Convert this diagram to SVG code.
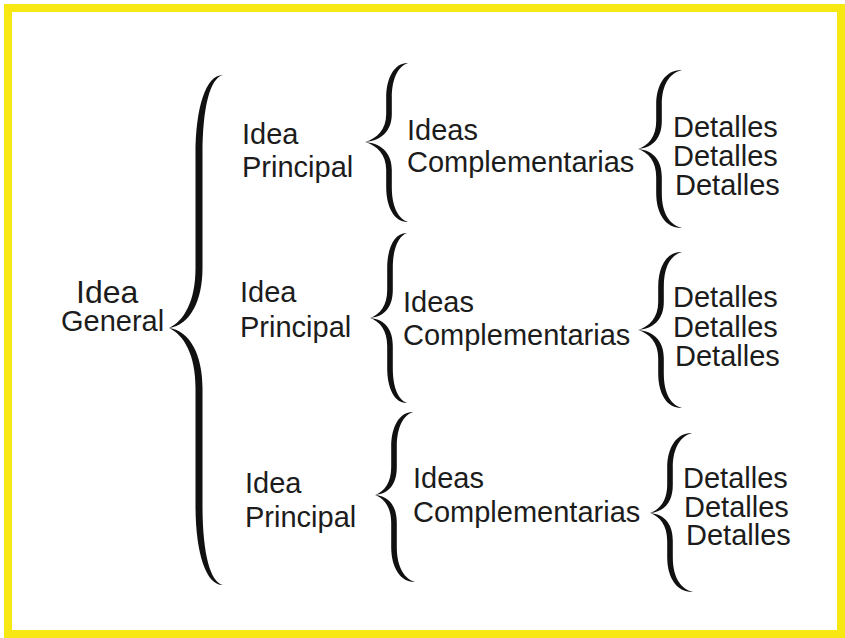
<svg xmlns="http://www.w3.org/2000/svg" width="845" height="638" viewBox="0 0 845 638">
<style>
.t{font-family:"Liberation Sans",Arial,sans-serif;font-size:29px;fill:#1c1c1c}
.g{font-size:32px}
.b{fill:#111;stroke:none}
</style>
<rect x="0" y="0" width="845" height="638" fill="#ffffff"/>
<rect x="8" y="8" width="833" height="626" fill="none" stroke="#f7e814" stroke-width="8"/>
<g id="connectors">
<path class="b" d="M 223,75 C 206,74.5 195.5,107 195.5,155 L 195.5,268 C 195.5,301 184,321 169,328 C 184,335 195.5,355 195.5,388 L 195.5,505 C 195.5,553 206,585.5 223,585 C 210,582 202.5,553 202.5,505 L 202.5,388 C 202.5,355 190,331 169,328 C 190,325 202.5,301 202.5,268 L 202.5,155 C 202.5,107 210,78 223,75 Z"/>
<path class="b" d="M 408,63 C 395,62.5 386.2,77 386.2,98 L 386.2,114 C 386.2,129.4 377,138.6 365,142 C 377,145.4 386.2,154.6 386.2,170 L 386.2,187 C 386.2,208 395,222.5 408,222 C 399,219 391.8,208 391.8,187 L 391.8,170 C 391.8,154.6 383,143.4 365,142 C 383,140.6 391.8,129.4 391.8,114 L 391.8,98 C 391.8,77 399,66 408,63 Z"/>
<path class="b" d="M 682,70 C 666,69.5 656.2,84 656.2,105 L 656.2,121 C 656.2,136.4 648.5,145.6 638,149 C 648.5,152.4 656.2,161.6 656.2,177 L 656.2,193 C 656.2,214 666,228.5 682,228 C 670,225 661.8,214 661.8,193 L 661.8,177 C 661.8,161.6 654.5,150.4 638,149 C 654.5,147.6 661.8,136.4 661.8,121 L 661.8,105 C 661.8,84 670,73 682,70 Z"/>
<path class="b" d="M 407,233 C 395,232.5 387.2,247 387.2,268 L 387.2,290 C 387.2,305.4 380,314.6 370,318 C 380,321.4 387.2,330.6 387.2,346 L 387.2,368 C 387.2,389 395,403.5 407,403 C 399,400 392.8,389 392.8,368 L 392.8,346 C 392.8,330.6 386,319.4 370,318 C 386,316.6 392.8,305.4 392.8,290 L 392.8,268 C 392.8,247 399,236 407,233 Z"/>
<path class="b" d="M 682,252 C 667,251.5 658.2,266 658.2,287 L 658.2,302 C 658.2,317.4 649.5,326.6 638,330 C 649.5,333.4 658.2,342.6 658.2,358 L 658.2,373 C 658.2,394 667,408.5 682,408 C 671,405 663.8,394 663.8,373 L 663.8,358 C 663.8,342.6 655.5,331.4 638,330 C 655.5,328.6 663.8,317.4 663.8,302 L 663.8,287 C 663.8,266 671,255 682,252 Z"/>
<path class="b" d="M 413,412 C 400,411.5 391.2,426 391.2,447 L 391.2,467 C 391.2,482.4 384.5,491.6 375,495 C 384.5,498.4 391.2,507.6 391.2,523 L 391.2,547 C 391.2,568 401,582.5 415,582 C 405,579 396.8,568 396.8,547 L 396.8,523 C 396.8,507.6 390.5,496.4 375,495 C 390.5,493.6 396.8,482.4 396.8,467 L 396.8,447 C 396.8,426 404,415 413,412 Z"/>
<path class="b" d="M 692,433 C 677,432.5 667.2,447 667.2,468 L 667.2,485 C 667.2,500.4 660,509.6 650,513 C 660,516.4 667.2,525.6 667.2,541 L 667.2,557 C 667.2,578 677,592.5 693,592 C 681,589 672.8,578 672.8,557 L 672.8,541 C 672.8,525.6 666,514.4 650,513 C 666,511.6 672.8,500.4 672.8,485 L 672.8,468 C 672.8,447 681,436 692,433 Z"/>
</g>
<g id="idea-general">
<text class="t g" x="76" y="303">Idea</text>
<text class="t" x="61" y="331">General</text>
</g>
<g id="principal-1"><text class="t" x="242" y="144">Idea</text><text class="t" x="242" y="177">Principal</text></g>
<g id="principal-2"><text class="t" x="240" y="302">Idea</text><text class="t" x="240" y="337">Principal</text></g>
<g id="principal-3"><text class="t" x="245" y="493">Idea</text><text class="t" x="245" y="527">Principal</text></g>
<g id="comp-1"><text class="t" x="407" y="140">Ideas</text><text class="t" x="407" y="172">Complementarias</text></g>
<g id="comp-2"><text class="t" x="403" y="312">Ideas</text><text class="t" x="403" y="345">Complementarias</text></g>
<g id="comp-3"><text class="t" x="413" y="488">Ideas</text><text class="t" x="413" y="522">Complementarias</text></g>
<g id="det-1"><text class="t" x="673" y="137">Detalles</text><text class="t" x="673" y="166">Detalles</text><text class="t" x="675" y="195">Detalles</text></g>
<g id="det-2"><text class="t" x="673" y="307">Detalles</text><text class="t" x="673" y="337">Detalles</text><text class="t" x="675" y="366">Detalles</text></g>
<g id="det-3"><text class="t" x="683" y="488">Detalles</text><text class="t" x="684" y="517">Detalles</text><text class="t" x="686" y="545">Detalles</text></g>
</svg>
